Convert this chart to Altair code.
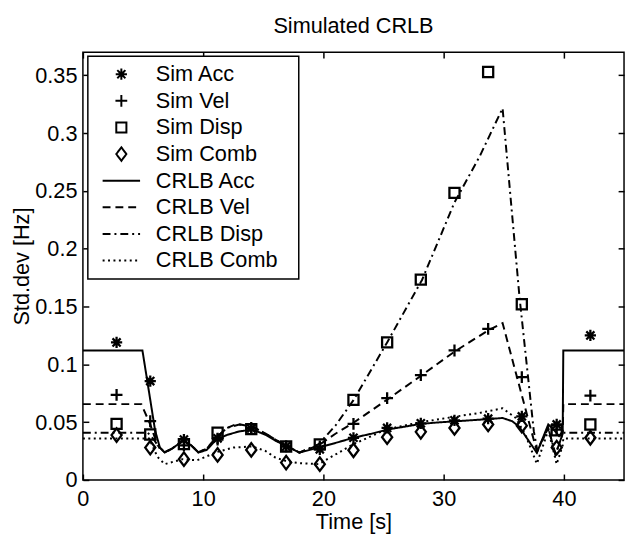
import altair as alt
import pandas as pd

# ---------------- data ----------------
series_order = ["Sim Acc", "Sim Vel", "Sim Disp", "Sim Comb",
                "CRLB Acc", "CRLB Vel", "CRLB Disp", "CRLB Comb"]

# simulation sample times
t_sim = [2.8, 5.6, 8.4, 11.2, 14.0, 16.9, 19.7, 22.5, 25.3, 28.1, 30.9, 33.7, 36.5, 39.4, 42.2]
sim_acc = [0.119, 0.0855, 0.035, 0.036, 0.0445, 0.029, 0.0265, 0.0365, 0.045, 0.049, 0.0516, 0.053, 0.055, 0.048, 0.125]
sim_vel = [0.0736, 0.0508, 0.030, 0.035, 0.045, 0.029, 0.029, 0.0485, 0.0707, 0.0906, 0.112, 0.1306, 0.089, 0.0436, 0.073]
sim_disp = [0.0485, 0.0393, 0.031, 0.0408, 0.044, 0.029, 0.0308, 0.0693, 0.119, 0.1733, 0.2483, 0.3529, 0.152, 0.043, 0.048]
sim_comb = [0.0388, 0.028, 0.018, 0.0217, 0.026, 0.015, 0.0137, 0.0257, 0.037, 0.0416, 0.045, 0.048, 0.047, 0.028, 0.0365]

# CRLB curves
t_acc = [0, 4.95, 5.5, 6.0, 6.4, 6.8, 7.4, 8.3, 9.0, 9.6, 10.3, 11.1, 12.0, 13.0, 14.1, 15.2, 16.0,
         17.0, 18.0, 19.6, 21.0, 22.5, 24.0, 25.3, 26.7, 28.1, 29.6, 31.1, 32.5, 33.8, 34.9, 35.7,
         36.3, 36.8, 37.75, 38.7, 39.2, 39.6, 39.9, 39.95, 45]
crlb_acc = [0.112, 0.112, 0.076, 0.043, 0.028, 0.0237, 0.027, 0.0337, 0.030, 0.0237, 0.026, 0.035,
            0.039, 0.042, 0.0436, 0.039, 0.034, 0.029, 0.0237, 0.028, 0.032, 0.0365, 0.040, 0.0436,
            0.046, 0.0485, 0.0498, 0.0508, 0.0518, 0.0527, 0.0536, 0.0508, 0.046, 0.038, 0.0235,
            0.048, 0.043, 0.038, 0.042, 0.112, 0.112]

t_vel = [0, 4.86, 5.6, 6.2, 6.8, 7.4, 8.3, 9.0, 9.6, 10.3, 11.1, 12.0, 12.8, 14.1, 15.2, 16.0, 17.0,
         18.0, 19.6, 21.0, 22.5, 25.3, 28.1, 30.9, 33.8, 34.9, 37.3, 37.75, 38.7, 39.3, 39.9, 39.95, 45]
crlb_vel = [0.0656, 0.0656, 0.048, 0.030, 0.024, 0.027, 0.034, 0.030, 0.024, 0.027, 0.037, 0.045,
            0.0485, 0.046, 0.040, 0.035, 0.029, 0.0237, 0.030, 0.040, 0.0495, 0.0695, 0.0900,
            0.1110, 0.1300, 0.1357, 0.042, 0.025, 0.045, 0.022, 0.040, 0.0656, 0.0656]

t_disp = [0, 5.4, 5.9, 6.4, 6.8, 7.4, 8.3, 9.0, 9.6, 10.3, 11.1, 12.0, 13.0, 14.1, 15.2, 16.0, 17.0,
          18.0, 19.6, 21.0, 22.5, 25.3, 28.2, 30.9, 33.0, 34.9, 36.3, 37.5, 37.8, 38.7, 39.3, 39.9, 39.95, 45]
crlb_disp = [0.0408, 0.0408, 0.035, 0.027, 0.024, 0.027, 0.034, 0.030, 0.024, 0.027, 0.037, 0.045,
             0.048, 0.046, 0.040, 0.035, 0.029, 0.0237, 0.031, 0.047, 0.069, 0.119, 0.173, 0.240,
             0.280, 0.3215, 0.159, 0.042, 0.025, 0.045, 0.022, 0.040, 0.0408, 0.0408]

t_comb = [0, 5.5, 6.2, 6.8, 8.3, 9.5, 11.1, 12.5, 14.1, 15.2, 16.0, 17.0, 18.0, 19.6, 21.0, 22.5,
          25.3, 28.1, 31.1, 33.0, 34.9, 36.0, 36.8, 37.75, 38.7, 39.4, 39.9, 39.95, 45]
crlb_comb = [0.0359, 0.0359, 0.020, 0.0137, 0.018, 0.017, 0.024, 0.028, 0.029, 0.025, 0.0194, 0.016,
             0.0145, 0.0137, 0.022, 0.031, 0.044, 0.050, 0.055, 0.058, 0.062, 0.0536, 0.039, 0.014,
             0.043, 0.0137, 0.030, 0.0359, 0.0359]

x_ticks = [0, 10, 20, 30, 40]
y_ticks = [0, 0.05, 0.1, 0.15, 0.2, 0.25, 0.3, 0.35]

# ---------------- tables ----------------
pts = []
for name, vals in zip(series_order[:4], [sim_acc, sim_vel, sim_disp, sim_comb]):
    for t, v in zip(t_sim, vals):
        pts.append({"t": t, "v": v, "series": name})
pts = pd.DataFrame(pts)

lines = []
for name, ts, vals in zip(series_order[4:], [t_acc, t_vel, t_disp, t_comb],
                          [crlb_acc, crlb_vel, crlb_disp, crlb_comb]):
    for i, (t, v) in enumerate(zip(ts, vals)):
        lines.append({"t": t, "v": v, "series": name, "idx": i})
lines = pd.DataFrame(lines)

# ---------------- symbols (unit box scaled by sqrt(size)/2) ----------------
k = 0.3
ASTERISK = (f"M0,{-k}L0,{k}M{-k},0L{k},0"
            f"M{-0.72*k},{-0.72*k}L{0.72*k},{0.72*k}M{-0.72*k},{0.72*k}L{0.72*k},{-0.72*k}")
PLUS = f"M0,{-1.05*k}L0,{1.05*k}M{-1.05*k},0L{1.05*k},0"
SQUARE = f"M{-0.9*k},{-0.9*k}L{0.9*k},{-0.9*k}L{0.9*k},{0.9*k}L{-0.9*k},{0.9*k}Z"
DIAMOND = f"M{-0.9*k},0L0,{-1.2*k}L{0.9*k},0L0,{1.2*k}Z"
LINE = "M-1,0L1,0"

shape_scale = alt.Scale(domain=series_order,
                        range=[ASTERISK, PLUS, SQUARE, DIAMOND, LINE, LINE, LINE, LINE])
dash_scale = alt.Scale(domain=series_order,
                       range=[[1, 0], [1, 0], [1, 0], [1, 0], [1, 0], [8, 5], [8, 4, 2, 4], [2, 3.5]])

legend = alt.Legend(title=None, orient="none", legendX=5, legendY=4, labelLimit=400,
                    labelExpr="datum.label + '\u2800'")

FONT = "Liberation Sans"
FS = 22

xs = alt.Scale(domain=[0, 45], nice=False, zero=False)
ys = alt.Scale(domain=[0, 0.37], nice=False, zero=False)

line_layer = alt.Chart(lines).mark_line(color="black", strokeWidth=2).encode(
    x=alt.X("t:Q", scale=xs,
            axis=alt.Axis(orient="bottom", values=x_ticks, title="Time [s]", domain=False,
                          offset=-6, tickSize=6, labelPadding=9, labelFlush=False,
                          grid=False, titlePadding=2)),
    y=alt.Y("v:Q", scale=ys,
            axis=alt.Axis(orient="left", values=y_ticks, format="~g", title="Std.dev [Hz]",
                          domain=False, offset=-6, tickSize=6, labelPadding=6,
                          labelFlush=False, grid=False, titlePadding=1)),
    strokeDash=alt.StrokeDash("series:N", scale=dash_scale, legend=legend),
    order="idx:Q",
)

point_layer = alt.Chart(pts).mark_point(filled=False, color="black", strokeWidth=2.3,
                                        size=1444, opacity=1).encode(
    x=alt.X("t:Q", scale=xs,
            axis=alt.Axis(orient="top", values=x_ticks, title=None, labels=False, domain=False,
                          offset=-6, tickSize=6, grid=False)),
    y=alt.Y("v:Q", scale=ys,
            axis=alt.Axis(orient="right", values=y_ticks, title=None, labels=False, domain=False,
                          offset=-6, tickSize=6, grid=False)),
    shape=alt.Shape("series:N", scale=shape_scale, legend=legend),
)

chart = alt.layer(line_layer, point_layer).resolve_axis(
    x="independent", y="independent"
).properties(
    width=549, height=434,
    title=alt.TitleParams("Simulated CRLB", fontSize=FS, font=FONT, fontWeight="normal",
                          anchor="middle", baseline="alphabetic", offset=19, dy=22,
                          color="black"),
    autosize=alt.AutoSizeParams(type="none"),
    padding={"left": 76, "top": 41, "right": 2, "bottom": 52},
).configure_view(
    stroke="black", strokeWidth=1.5
).configure_axis(
    labelFont=FONT, labelFontSize=FS, labelColor="black",
    titleFont=FONT, titleFontSize=FS, titleColor="black", titleFontWeight="normal",
    tickColor="black", tickWidth=1.5,
).configure_legend(
    strokeColor="black", strokeWidth=1.5, fillColor="white", padding=5, cornerRadius=0,
    labelFont=FONT, labelFontSize=FS, labelColor="black",
    symbolSize=1444, symbolStrokeWidth=2, symbolStrokeColor="black",
    clipHeight=26.7, rowPadding=0, symbolOffset=9, labelOffset=15,
)

chart.save("out.html", embed_options={"renderer": "svg", "actions": False})
